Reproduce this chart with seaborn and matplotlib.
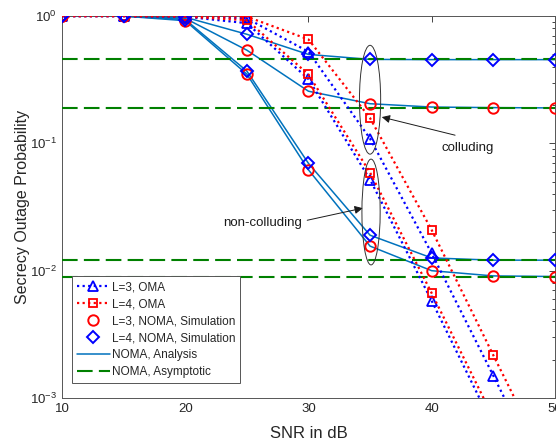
import numpy as np
import pandas as pd
import matplotlib
matplotlib.use("Agg")
import matplotlib.pyplot as plt
import seaborn as sns
from matplotlib.lines import Line2D
from matplotlib.patches import Ellipse

# ---------------- data ----------------
snr = [10, 15, 20, 25, 30, 35, 40, 45, 50]

oma_l3_col = [1.0, 1.0, 1.0, 0.96, 0.525, 0.109, 0.0137, 0.0015, 0.00016]
oma_l4_col = [1.0, 1.0, 1.0, 0.99, 0.656, 0.158, 0.0209, 0.00217, 0.00023]
oma_l3_non = [1.0, 1.0, 0.99, 0.88, 0.32, 0.052, 0.0058, 0.0006, 0.00006]
oma_l4_non = [1.0, 1.0, 0.99, 0.93, 0.348, 0.059, 0.00667, 0.0007, 0.00007]

noma_l4_col = [1.0, 1.0, 0.98, 0.72, 0.50, 0.457, 0.455, 0.455, 0.455]
noma_l3_col = [1.0, 1.0, 0.96, 0.54, 0.257, 0.205, 0.193, 0.191, 0.19]
noma_l4_non = [1.0, 1.0, 0.94, 0.37, 0.0697, 0.019, 0.0126, 0.0121, 0.0121]
noma_l3_non = [1.0, 1.0, 0.92, 0.35, 0.062, 0.0156, 0.0100, 0.0091, 0.0090]

asymptotes = [0.46, 0.19, 0.0121, 0.0090]

legend_labels = ["L=3, OMA", "L=4, OMA", "L=3, NOMA, Simulation",
                 "L=4, NOMA, Simulation", "NOMA, Analysis", "NOMA, Asymptotic"]

# ---------------- style ----------------
sns.set_style("white")
plt.rcParams["font.family"] = ["Liberation Sans", "DejaVu Sans"]
plt.rcParams["mathtext.fontset"] = "custom"
plt.rcParams["mathtext.rm"] = "Liberation Sans"
plt.rcParams["axes.unicode_minus"] = False

C_ANA = "#0072BD"
C_ASY = "#008000"
C_BLUE = "#0000FF"
C_RED = "#FF0000"
DOT = (0, (1, 1.5))
DASH = (0, (7.5, 3))

fig = plt.figure(figsize=(5.56, 4.41), dpi=100)
ax = fig.add_axes([0.1115, 0.0975, 0.8865, 0.866])
ax.set_yscale("log")

# analysis lines
for vals in [noma_l4_col, noma_l3_col, noma_l4_non, noma_l3_non]:
    sns.lineplot(x=snr, y=vals, ax=ax, color=C_ANA, linewidth=1.1,
                 linestyle="-", estimator=None, legend=False, zorder=2)

# asymptotes
for a in asymptotes:
    sns.lineplot(x=[10, 50], y=[a, a], ax=ax, color=C_ASY, linewidth=1.5,
                 linestyle=DASH, estimator=None, legend=False, zorder=3)

# OMA curves
for vals, col, mk, ms in [(oma_l3_col, C_BLUE, "^", 7), (oma_l4_col, C_RED, "s", 5.2),
                          (oma_l3_non, C_BLUE, "^", 7), (oma_l4_non, C_RED, "s", 5.2)]:
    sns.lineplot(x=snr, y=vals, ax=ax, color=col, linewidth=1.6, linestyle=DOT,
                 marker=mk, markersize=ms, markerfacecolor="none",
                 markeredgecolor=col, markeredgewidth=1.3,
                 estimator=None, legend=False, zorder=4)

# NOMA simulation markers
for vals, col, mk, ms in [(noma_l3_col, C_RED, "o", 7.5), (noma_l3_non, C_RED, "o", 7.5),
                          (noma_l4_col, C_BLUE, "D", 6), (noma_l4_non, C_BLUE, "D", 6)]:
    sns.lineplot(x=snr, y=vals, ax=ax, color=col, linestyle="none",
                 marker=mk, markersize=ms, markerfacecolor="none",
                 markeredgecolor=col, markeredgewidth=1.4,
                 estimator=None, legend=False, zorder=5)

# axes limits & ticks
ax.set_xlim(10, 50)
ax.set_ylim(1e-3, 1)
ax.set_xticks([10, 20, 30, 40, 50])
ax.tick_params(axis="both", which="both", direction="in", top=True, right=True,
               labelsize=9.5, colors="#262626", width=0.6)
ax.tick_params(axis="both", which="major", length=4.5)
ax.tick_params(axis="both", which="minor", length=2.5)
ax.tick_params(axis="x", which="minor", bottom=False, top=False)
ax.yaxis.set_minor_locator(matplotlib.ticker.LogLocator(base=10, subs=np.arange(2, 10)))
for s in ax.spines.values():
    s.set_color("#555555")
    s.set_linewidth(0.7)

ax.set_xlabel("SNR in dB", fontsize=12, labelpad=8, color="#262626")
ax.set_ylabel("Secrecy Outage Probability", fontsize=11.5, labelpad=0, color="#262626")

# ellipses (axes coordinates)
ax.add_patch(Ellipse((0.625, 0.781), 0.043, 0.285, transform=ax.transAxes,
                     fill=False, edgecolor="#333333", linewidth=0.7, zorder=6))
ax.add_patch(Ellipse((0.627, 0.487), 0.037, 0.277, transform=ax.transAxes,
                     fill=False, edgecolor="#333333", linewidth=0.7, zorder=6))

# annotations
ax.text(42.9, 0.0918, "colluding", fontsize=9.5, ha="center", va="center", color="#1a1a1a")
ax.text(26.3, 0.0237, "non-colluding", fontsize=9.5, ha="center", va="center", color="#1a1a1a")
arrow_kw = dict(arrowstyle="-|>", color="#1a1a1a", lw=0.7, mutation_scale=12,
                shrinkA=0, shrinkB=0)
ax.annotate("", xy=(35.95, 0.161), xytext=(41.9, 0.116), arrowprops=arrow_kw)
ax.annotate("", xy=(34.41, 0.031), xytext=(29.9, 0.0249), arrowprops=arrow_kw)

# legend
handles = [
    Line2D([], [], color=C_BLUE, linestyle=DOT, linewidth=1.6, marker="^",
           markersize=7, markerfacecolor="none", markeredgewidth=1.3),
    Line2D([], [], color=C_RED, linestyle=DOT, linewidth=1.6, marker="s",
           markersize=5.2, markerfacecolor="none", markeredgewidth=1.3),
    Line2D([], [], color=C_RED, linestyle="none", marker="o", markersize=7.5,
           markerfacecolor="none", markeredgewidth=1.4),
    Line2D([], [], color=C_BLUE, linestyle="none", marker="D", markersize=6,
           markerfacecolor="none", markeredgewidth=1.4),
    Line2D([], [], color=C_ANA, linestyle="-", linewidth=1.1),
    Line2D([], [], color=C_ASY, linestyle=DASH, linewidth=1.5),
]
leg = ax.legend(handles, legend_labels, loc="lower left", bbox_to_anchor=(0.02, 0.04),
                borderaxespad=0, fontsize=8.5, frameon=True, fancybox=False,
                framealpha=1, edgecolor="#555555", handlelength=2.8,
                handletextpad=0.2, labelspacing=0.42, borderpad=0.4)
leg.get_frame().set_linewidth(0.7)

fig.savefig("out.png", dpi=100)
